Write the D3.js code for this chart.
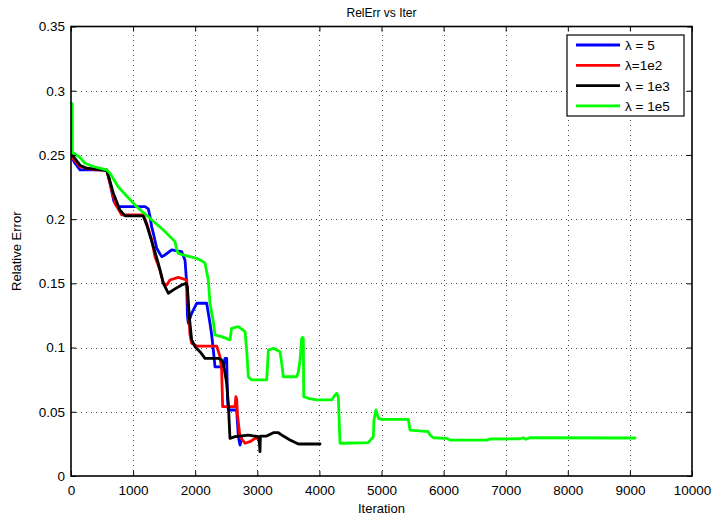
<!DOCTYPE html>
<html>
<head>
<meta charset="utf-8">
<script src="https://cdn.jsdelivr.net/npm/d3@7"></script>
<style>
  html, body { margin: 0; padding: 0; background: #fff; }
  svg { display: block; font-family: "Liberation Sans", Arial, Helvetica, sans-serif; }
</style>
</head>
<body>
<svg id="chart" width="714" height="521"></svg>
<script>
// Relative error per iteration for four regularisation weights
const seriesNames = ["λ = 5", "λ=1e2", "λ = 1e3", "λ = 1e5"];
const seriesColors = ["#0000ff", "#ff0000", "#000000", "#00ff00"];

const iterL5 = [0, 5, 37, 64, 145, 575, 628, 690, 740, 1192, 1245, 1272, 1299, 1326, 1380, 1460, 1514, 1621, 1782, 1836, 1863, 1875, 1889, 1943, 2024, 2185, 2238, 2265, 2292, 2319, 2453, 2480, 2507, 2520, 2533, 2668, 2695, 2721, 2748];
const errL5  = [0.29, 0.25, 0.246, 0.2435, 0.2383, 0.2383, 0.228, 0.214, 0.2097, 0.2097, 0.208, 0.202, 0.194, 0.189, 0.1773, 0.1708, 0.1721, 0.176, 0.1747, 0.168, 0.15, 0.125, 0.119, 0.1267, 0.1345, 0.1345, 0.119, 0.11, 0.098, 0.085, 0.085, 0.0916, 0.0916, 0.06, 0.0514, 0.0514, 0.0306, 0.0241, 0.0293];

const iterL1e2 = [0, 5, 37, 145, 252, 400, 575, 628, 709, 816, 1164, 1219, 1299, 1353, 1433, 1487, 1541, 1594, 1728, 1863, 1889, 1916, 1943, 2024, 2346, 2399, 2426, 2442, 2641, 2655, 2668, 2680, 2721, 2802, 2882, 2963, 2990];
const errL1e2  = [0.29, 0.25, 0.247, 0.241, 0.2395, 0.2383, 0.2383, 0.228, 0.2124, 0.2033, 0.2033, 0.1968, 0.1838, 0.1708, 0.1604, 0.15, 0.1487, 0.1526, 0.1547, 0.1526, 0.13, 0.11, 0.1033, 0.1012, 0.1012, 0.0929, 0.0825, 0.054, 0.054, 0.0618, 0.06, 0.048, 0.0306, 0.0255, 0.0267, 0.0293, 0.0293];

const iterL1e3 = [0, 5, 37, 145, 252, 575, 601, 682, 789, 870, 1164, 1219, 1326, 1406, 1487, 1567, 1648, 1782, 1852, 1873, 1905, 1943, 1997, 2077, 2158, 2372, 2426, 2453, 2507, 2533, 2560, 2641, 2856, 3016, 3035, 3043, 3050, 3151, 3258, 3339, 3419, 3527, 3661, 4010];
const errL1e3  = [0.29, 0.25, 0.249, 0.242, 0.2397, 0.2378, 0.234, 0.2202, 0.207, 0.2025, 0.2025, 0.1955, 0.1786, 0.1656, 0.15, 0.1423, 0.1449, 0.1487, 0.15, 0.1474, 0.124, 0.106, 0.1007, 0.0968, 0.0916, 0.0916, 0.0903, 0.0877, 0.0722, 0.0566, 0.0293, 0.0306, 0.0319, 0.0306, 0.025, 0.019, 0.031, 0.0311, 0.0337, 0.0337, 0.0311, 0.028, 0.0249, 0.0249];

const iterL1e5 = [20, 22, 45, 145, 225, 359, 575, 628, 762, 1057, 1272, 1487, 1675, 1702, 1728, 1808, 2024, 2130, 2158, 2211, 2238, 2292, 2319, 2426, 2560, 2587, 2695, 2802, 2829, 2856, 2909, 3151, 3170, 3178, 3258, 3366, 3393, 3419, 3634, 3661, 3688, 3714, 3730, 3741, 3748, 3821, 3956, 4198, 4251, 4278, 4304, 4332, 4385, 4788, 4868, 4879, 4911, 4949, 5003, 5432, 5459, 5754, 5781, 5834, 6050, 6103, 6694, 6747, 7230, 7284, 7327, 7391, 9082];
const errL1e5  = [0.29, 0.2515, 0.2513, 0.248, 0.2435, 0.241, 0.2383, 0.2357, 0.225, 0.2097, 0.2007, 0.1916, 0.1825, 0.176, 0.1734, 0.1721, 0.1695, 0.1669, 0.1656, 0.1526, 0.1345, 0.12, 0.1098, 0.1085, 0.106, 0.115, 0.1163, 0.1124, 0.098, 0.0773, 0.0748, 0.0748, 0.09, 0.098, 0.0994, 0.0968, 0.0877, 0.0773, 0.0773, 0.081, 0.09, 0.107, 0.108, 0.107, 0.0618, 0.0605, 0.0592, 0.0592, 0.063, 0.0644, 0.0618, 0.0255, 0.0255, 0.026, 0.0306, 0.0436, 0.0514, 0.0449, 0.0441, 0.0441, 0.0358, 0.0345, 0.0319, 0.0298, 0.0293, 0.028, 0.028, 0.0288, 0.029, 0.0298, 0.0286, 0.0298, 0.0296];

const xTicks = [0, 1000, 2000, 3000, 4000, 5000, 6000, 7000, 8000, 9000, 10000];
const xTickLabels = ["0", "1000", "2000", "3000", "4000", "5000", "6000", "7000", "8000", "9000", "10000"];
const yTicks = [0, 0.05, 0.1, 0.15, 0.2, 0.25, 0.3, 0.35];
const yTickLabels = ["0", "0.05", "0.1", "0.15", "0.2", "0.25", "0.3", "0.35"];

const titleText = "RelErr vs Iter";
const xLabelText = "Iteration";
const yLabelText = "Relative Error";

const series = [
  { name: seriesNames[0], color: seriesColors[0], iter: iterL5, err: errL5 },
  { name: seriesNames[1], color: seriesColors[1], iter: iterL1e2, err: errL1e2 },
  { name: seriesNames[2], color: seriesColors[2], iter: iterL1e3, err: errL1e3 },
  { name: seriesNames[3], color: seriesColors[3], iter: iterL1e5, err: errL1e5 }
];

const svg = d3.select("#chart");
const plot = { left: 71, right: 692, top: 26.5, bottom: 476 };

const x = d3.scaleLinear().domain([0, 10000]).range([plot.left, plot.right]);
const y = d3.scaleLinear().domain([0, 0.35]).range([plot.bottom, plot.top]);

// dotted grid
const grid = svg.append("g").attr("class", "grid")
  .attr("stroke", "#444").attr("stroke-width", 1).attr("stroke-dasharray", "1,4");
grid.selectAll("line.gx").data(xTicks.slice(1, -1)).join("line")
  .attr("x1", d => Math.round(x(d)) + 0.5).attr("x2", d => Math.round(x(d)) + 0.5)
  .attr("y1", plot.bottom).attr("y2", plot.top);
grid.selectAll("line.gy").data(yTicks.slice(1, -1)).join("line")
  .attr("y1", d => Math.round(y(d)) + 0.5).attr("y2", d => Math.round(y(d)) + 0.5)
  .attr("x1", plot.left).attr("x2", plot.right);

// data lines
svg.append("clipPath").attr("id", "plotclip").append("rect")
  .attr("x", plot.left).attr("y", plot.top)
  .attr("width", plot.right - plot.left).attr("height", plot.bottom - plot.top);

const line = d3.line().x(d => x(d[0])).y(d => y(d[1]));
svg.append("g").attr("clip-path", "url(#plotclip)")
  .selectAll("path").data(series).join("path")
  .attr("d", s => line(s.iter.map((v, i) => [v, s.err[i]])))
  .attr("fill", "none")
  .attr("stroke", s => s.color)
  .attr("stroke-width", 2.8)
  .attr("stroke-linejoin", "round")
  .attr("stroke-linecap", "round");

// axes with inward ticks on all four sides
const fmtX = (d, i) => xTickLabels[i];
const fmtY = (d, i) => yTickLabels[i];

const axB = svg.append("g").attr("transform", `translate(0,${plot.bottom})`)
  .call(d3.axisBottom(x).tickValues(xTicks).tickFormat(fmtX).tickSize(-5).tickPadding(9));
const axL = svg.append("g").attr("transform", `translate(${plot.left},0)`)
  .call(d3.axisLeft(y).tickValues(yTicks).tickFormat(fmtY).tickSize(-5).tickPadding(6));
const axT = svg.append("g").attr("transform", `translate(0,${plot.top})`)
  .call(d3.axisTop(x).tickValues(xTicks).tickFormat("").tickSize(-5));
const axR = svg.append("g").attr("transform", `translate(${plot.right},0)`)
  .call(d3.axisRight(y).tickValues(yTicks).tickFormat("").tickSize(-5));

[axB, axL, axT, axR].forEach(a => {
  a.select(".domain").remove();
  a.selectAll(".tick line").attr("stroke", "#000").attr("stroke-width", 1);
  a.selectAll(".tick text").attr("fill", "#000").style("font-size", "13.5px")
    .style("font-family", "\"Liberation Sans\", Arial, sans-serif");
});

// frame
svg.append("rect")
  .attr("x", plot.left).attr("y", plot.top)
  .attr("width", plot.right - plot.left).attr("height", plot.bottom - plot.top)
  .attr("fill", "none").attr("stroke", "#000").attr("stroke-width", 1.6);

// title and labels
svg.append("text").attr("x", (plot.left + plot.right) / 2).attr("y", 17)
  .attr("text-anchor", "middle").style("font-size", "12px").text(titleText);
svg.append("text").attr("x", (plot.left + plot.right) / 2).attr("y", 513)
  .attr("text-anchor", "middle").style("font-size", "13px").text(xLabelText);
svg.append("text").attr("transform", `translate(21,${(plot.top + plot.bottom) / 2}) rotate(-90)`)
  .attr("text-anchor", "middle").style("font-size", "13px").text(yLabelText);

// legend
const lg = { x: 567, y: 35, w: 117, h: 81 };
svg.append("rect").attr("x", lg.x).attr("y", lg.y).attr("width", lg.w).attr("height", lg.h)
  .attr("fill", "#fff").attr("stroke", "#000").attr("stroke-width", 1.2);
const items = svg.append("g").selectAll("g").data(series).join("g")
  .attr("transform", (d, i) => `translate(${lg.x},${lg.y + 10 + i * 20.3})`);
items.append("line").attr("x1", 9).attr("x2", 53).attr("y1", 0).attr("y2", 0)
  .attr("stroke", d => d.color).attr("stroke-width", 2.8);
items.append("text").attr("x", 58).attr("y", 5).style("font-size", "13.5px")
  .text(d => d.name);
</script>
</body>
</html>
